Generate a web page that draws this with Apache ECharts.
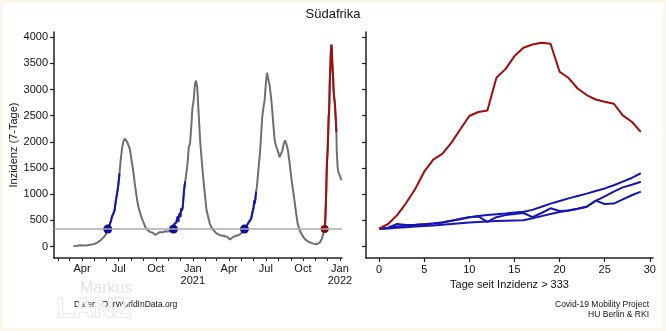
<!DOCTYPE html>
<html>
<head>
<meta charset="utf-8">
<script src="https://cdn.jsdelivr.net/npm/echarts@6/dist/echarts.min.js"></script>
<style>
  html, body { margin: 0; padding: 0; background: #fbf6ea; }
  #frame { position: absolute; left: 3px; top: 3px; right: 3px; bottom: 3px; background: #ffffff; }
  #chart { position: absolute; left: 0; top: 0; width: 666px; height: 331px; }
</style>
</head>
<body>
<div id="frame"></div>
<div id="chart"></div>
<script>
// Threshold of the 7-day incidence that marks the start of a wave
const threshold = 333;

// Daily 7-day incidence outside the 30-day windows after each crossing
const baseDates = [
  '2020-03-11','2020-03-20','2020-03-28','2020-04-05','2020-04-14','2020-04-22','2020-04-30','2020-05-08',
  '2020-05-17','2020-05-24','2020-05-29','2020-06-01',
  '2020-07-06','2020-07-09','2020-07-12','2020-07-16','2020-07-19','2020-07-22','2020-07-25','2020-07-29',
  '2020-08-02','2020-08-06','2020-08-10','2020-08-13','2020-08-16','2020-08-19','2020-08-25','2020-08-31',
  '2020-09-05','2020-09-11','2020-09-17','2020-09-23','2020-09-30','2020-10-06','2020-10-12','2020-10-18',
  '2020-10-24','2020-10-30','2020-11-06','2020-11-10',
  '2020-12-16','2020-12-19','2020-12-22','2020-12-25','2020-12-28','2020-12-31','2021-01-03','2021-01-06',
  '2021-01-09','2021-01-12','2021-01-15','2021-01-19','2021-01-23','2021-01-29','2021-02-04','2021-02-12',
  '2021-02-18','2021-02-25','2021-03-03','2021-03-09','2021-03-15','2021-03-22','2021-03-28','2021-04-03',
  '2021-04-07','2021-04-11','2021-04-17','2021-04-24','2021-05-02','2021-05-06',
  '2021-06-09','2021-06-11','2021-06-14','2021-06-17','2021-06-22','2021-06-25','2021-06-28','2021-07-01',
  '2021-07-04','2021-07-07','2021-07-10','2021-07-14','2021-07-17','2021-07-20','2021-07-23','2021-07-26',
  '2021-07-29','2021-08-01','2021-08-04','2021-08-07','2021-08-11','2021-08-15','2021-08-18','2021-08-21',
  '2021-08-25','2021-08-29','2021-09-02','2021-09-06','2021-09-10','2021-09-14','2021-09-18','2021-09-22',
  '2021-09-27','2021-10-03','2021-10-09','2021-10-15','2021-10-21','2021-10-27','2021-11-03','2021-11-08',
  '2021-11-13','2021-11-17','2021-11-20',
  '2021-12-24','2021-12-26','2021-12-28','2021-12-30','2022-01-01','2022-01-03','2022-01-05'
];
const baseValues = [
  10, 15, 25, 20, 22, 35, 45, 70,
  120, 170, 215, 270,
  1650, 1850, 1990, 2060, 2090, 2000, 1990, 1850,
  1650, 1450, 1200, 1040, 880, 754, 596, 470,
  373, 310, 278, 265, 220, 250, 278, 270,
  291, 285, 297, 310,
  1400, 1600, 1900, 1960, 2280, 2650, 2790, 3100,
  3170, 3040, 2600, 2030, 1644, 1135, 691, 438,
  340, 278, 240, 215, 210, 196, 180, 133,
  160, 183, 200, 215, 259, 300,
  1150, 1326, 1580, 1834, 2469, 2650, 2787, 3100,
  3320, 3200, 3105, 2850, 2596, 2300, 2025, 1930,
  1865, 1800, 1707, 1760, 1834, 1980, 2025, 1960,
  1834, 1600, 1326, 1100, 882, 650, 438, 330,
  248, 170, 120, 90, 69, 55, 44, 55,
  88, 150, 230,
  1830, 1520, 1420, 1390, 1450, 1300, 1263
];

// First day above the threshold for each earlier wave, and the 30 days that follow
const waveStarts = ['2020-06-04', '2020-11-14', '2021-05-09'];
const wave1 = [337,355,380,395,410,425,440,460,490,520,560,585,600,615,630,650,665,700,760,820,870,920,965,1010,1060,1110,1170,1240,1310,1400];
const wave2 = [337,360,430,410,415,425,440,460,490,530,560,575,470,560,600,620,640,560,640,730,680,690,720,760,870,960,1050,1130,1180,1238];
const wave3 = [337,345,360,370,380,390,400,415,430,445,460,470,480,485,490,495,500,540,580,620,660,690,720,760,876,813,820,900,980,1048];

// Current wave
const currentStart = '2021-11-24';
const currentWave = [340,430,600,830,1100,1430,1660,1770,1980,2240,2495,2570,2600,3225,3390,3640,3800,3860,3895,3875,3340,3220,3020,2895,2810,2765,2730,2505,2385,2190];

// Axis ticks
const yTicks = [0, 500, 1000, 1500, 2000, 2500, 3000, 3500, 4000];
const dayTicks = [0, 5, 10, 15, 20, 25, 30];
const monthNames = ['Jan','Feb','Mar','Apr','May','Jun','Jul','Aug','Sep','Oct','Nov','Dec'];
const quarterLabels = ['2020-04-01','2020-07-01','2020-10-01','2021-01-01','2021-04-01','2021-07-01','2021-10-01','2022-01-01'];

const DAY = 86400000;
function ts(s) { const p = s.split('-').map(Number); return Date.UTC(p[0], p[1] - 1, p[2]); }

function windowPoints(start, values) {
  const t0 = ts(start);
  return values.map((v, i) => [t0 + i * DAY, v]);
}

const waves = [wave1, wave2, wave3];
const wavePts = waves.map((w, i) => windowPoints(waveStarts[i], w));
const currentPts = windowPoints(currentStart, currentWave);

const fullSeries = baseDates.map((d, i) => [ts(d), baseValues[i]])
  .concat(...wavePts, currentPts)
  .sort((a, b) => a[0] - b[0]);

// Month ticks along the date axis
const monthTicks = [];
for (let y = 2020; y <= 2022; y++) {
  for (let m = 0; m < 12; m++) {
    const t = Date.UTC(y, m, 1);
    if (t >= Date.UTC(2020, 1, 1) && t <= Date.UTC(2022, 0, 1)) monthTicks.push(t);
  }
}

const GRAY = '#6f6f6f', BLUE = '#1616b2', RED = '#a00d0d';
const FONT = 'Liberation Sans, Arial, sans-serif';
const axisLineStyle = { color: '#222', width: 1.5 };
const labelStyle = { color: '#111', fontSize: 11, fontFamily: FONT };

const chart = echarts.init(document.getElementById('chart'), null, { renderer: 'canvas' });

const option = {
  backgroundColor: 'transparent',
  animation: false,
  textStyle: { fontFamily: FONT },
  title: {
    text: 'Südafrika', left: 'center', top: 3,
    textStyle: { fontSize: 13, fontWeight: 'normal', color: '#111', fontFamily: FONT }
  },
  grid: [
    { left: 54, right: 324, top: 32, bottom: 73 },
    { left: 366, right: 13, top: 32, bottom: 73 }
  ],
  xAxis: [
    {
      type: 'value', gridIndex: 0,
      min: Date.UTC(2020, 0, 22, 14), max: Date.UTC(2022, 0, 6),
      splitLine: { show: false },
      axisLine: { lineStyle: axisLineStyle, onZero: false },
      axisTick: { customValues: monthTicks, length: 3, lineStyle: { color: '#222', width: 1 } },
      axisLabel: Object.assign({
        customValues: quarterLabels.map(ts),
        margin: 5, lineHeight: 12,
        formatter: v => {
          const d = new Date(v);
          const m = d.getUTCMonth();
          return m === 0 ? monthNames[m] + '\n' + d.getUTCFullYear() : monthNames[m];
        }
      }, labelStyle)
    },
    {
      type: 'value', gridIndex: 1, min: -1.45, max: 30.35,
      splitLine: { show: false },
      axisLine: { lineStyle: axisLineStyle, onZero: false },
      axisTick: { customValues: dayTicks, length: 4, lineStyle: { color: '#222', width: 1.2 } },
      axisLabel: Object.assign({ customValues: dayTicks, margin: 6, formatter: v => String(v) }, labelStyle),
      name: 'Tage seit Inzidenz > ' + threshold,
      nameLocation: 'middle', nameGap: 19,
      nameTextStyle: { color: '#111', fontSize: 11, fontFamily: FONT }
    }
  ],
  yAxis: [
    {
      type: 'value', gridIndex: 0, min: -220, max: 4100,
      splitLine: { show: false },
      axisLine: { show: true, lineStyle: axisLineStyle, onZero: false },
      axisTick: { show: true, customValues: yTicks, length: 4, lineStyle: { color: '#222', width: 1.2 } },
      axisLabel: Object.assign({ customValues: yTicks, margin: 6, formatter: v => String(v) }, labelStyle),
      name: 'Inzidenz (7-Tage)', nameLocation: 'middle', nameGap: 31, nameRotate: 90,
      nameTextStyle: { color: '#111', fontSize: 11, fontFamily: FONT }
    },
    {
      type: 'value', gridIndex: 1, min: -220, max: 4100,
      splitLine: { show: false },
      axisLine: { show: true, lineStyle: axisLineStyle, onZero: false },
      axisTick: { show: true, customValues: yTicks, length: 4, lineStyle: { color: '#222', width: 1.2 } },
      axisLabel: { show: false }
    }
  ],
  series: [
    {
      type: 'line', xAxisIndex: 0, yAxisIndex: 0, data: fullSeries,
      showSymbol: false, lineStyle: { color: GRAY, width: 2 }, z: 2,
      markLine: {
        silent: true, symbol: 'none', label: { show: false },
        lineStyle: { color: '#ababab', width: 1.5, type: 'solid' },
        data: [{ yAxis: threshold }]
      }
    },
    ...wavePts.map(pts => ({
      type: 'line', xAxisIndex: 0, yAxisIndex: 0, data: pts,
      showSymbol: false, lineStyle: { color: BLUE, width: 2 }, z: 3
    })),
    {
      type: 'line', xAxisIndex: 0, yAxisIndex: 0, data: currentPts,
      showSymbol: false, lineStyle: { color: RED, width: 2 }, z: 3
    },
    {
      type: 'scatter', xAxisIndex: 0, yAxisIndex: 0,
      data: waveStarts.map(d => [ts(d), threshold]),
      symbolSize: 9, itemStyle: { color: '#0c0c9a', opacity: 1 }, z: 4
    },
    {
      type: 'scatter', xAxisIndex: 0, yAxisIndex: 0,
      data: [[ts(currentStart), threshold]],
      symbolSize: 8, itemStyle: { color: '#8e0b0b', opacity: 1 }, z: 4
    },
    ...waves.map(w => ({
      type: 'line', xAxisIndex: 1, yAxisIndex: 1, data: w.map((v, i) => [i, v]),
      showSymbol: false, lineStyle: { color: BLUE, width: 2 }, z: 3
    })),
    {
      type: 'line', xAxisIndex: 1, yAxisIndex: 1, data: currentWave.map((v, i) => [i, v]),
      showSymbol: false, lineStyle: { color: RED, width: 2 }, z: 4
    }
  ],
  graphic: [
    { type: 'text', left: 74, top: 300, style: { text: 'Daten: OurWorldInData.org', fontSize: 8.5, fill: '#111', fontFamily: FONT }, z: 10 },
    { type: 'text', left: 80, top: 281, style: { text: 'Markus', fontSize: 16, fill: '#e4e4e4', fontFamily: FONT }, z: 11 },
    { type: 'text', left: 56, top: 295, style: { text: 'LANZ', fontSize: 28, fontWeight: 'bold', fill: 'rgba(255,255,255,0.8)', stroke: '#dadada', lineWidth: 1, fontFamily: FONT }, z: 11 },
    { type: 'text', right: 17, top: 300, style: { text: 'Covid-19 Mobility Project', fontSize: 8.5, fill: '#111', align: 'right', fontFamily: FONT }, z: 10 },
    { type: 'text', right: 17, top: 310, style: { text: 'HU Berlin & RKI', fontSize: 8.5, fill: '#111', align: 'right', fontFamily: FONT }, z: 10 }
  ]
};

chart.setOption(option);
</script>
</body>
</html>
